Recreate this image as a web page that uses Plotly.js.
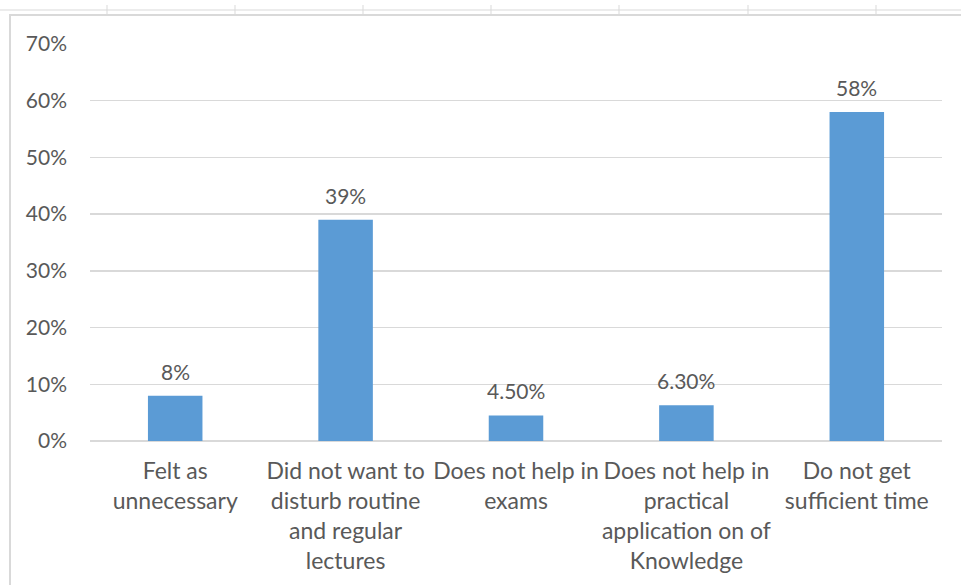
<!DOCTYPE html>
<html>
<head>
<meta charset="utf-8">
<script src="https://cdn.plot.ly/plotly-3.0.1.min.js"></script>
<style>html,body{margin:0;padding:0;background:#fff;}#chart{width:961px;height:585px;}</style>
</head>
<body>
<div id="chart"></div>
<script>
var categories = [
  "Felt as<br>unnecessary",
  "Did not want to<br>disturb routine<br>and regular<br>lectures",
  "Does not help in<br>exams",
  "Does not help in<br>practical<br>application on of<br>Knowledge",
  "Do not get<br>sufficient time"
];
var values = [0.08, 0.39, 0.045, 0.063, 0.58];
var valueLabels = ["8%", "39%", "4.50%", "6.30%", "58%"];
var yTickVals = [0, 0.1, 0.2, 0.3, 0.4, 0.5, 0.6, 0.7];
var yTickText = ["0%", "10%", "20%", "30%", "40%", "50%", "60%", "70%"];

var fontFam = "Lato, Open Sans, sans-serif";
var txtColor = "#595959";

var trace = {
  type: "bar",
  x: categories,
  y: values,
  marker: {color: "#5b9bd5", line: {width: 0}},
  hoverinfo: "none"
};

var annotations = categories.map(function (c, i) {
  return {
    x: c, y: values[i], xref: "x", yref: "y",
    text: valueLabels[i], showarrow: false,
    yanchor: "bottom", yshift: 10,
    font: {family: fontFam, size: 21, color: txtColor}
  };
});

// decorative frame (table border remnants at top and left)
var shapes = [];
var px = function (x) { return (x - 90) / 852; };
var py = function (y) { return (441 - y) / 397; };
shapes.push({type: "line", xref: "paper", yref: "paper", x0: px(0), x1: px(961), y0: py(10), y1: py(10), line: {color: "#d9d9d9", width: 1}});
shapes.push({type: "line", xref: "paper", yref: "paper", x0: px(9), x1: px(961), y0: py(15), y1: py(15), line: {color: "#d9d9d9", width: 2}});
shapes.push({type: "line", xref: "paper", yref: "paper", x0: px(10), x1: px(10), y0: py(15), y1: py(585), line: {color: "#d9d9d9", width: 2}});
[107, 235, 363, 491, 619, 748, 876].forEach(function (x) {
  shapes.push({type: "line", xref: "paper", yref: "paper", x0: px(x), x1: px(x), y0: py(5), y1: py(15), line: {color: "#d9d9d9", width: 1}});
});

var layout = {
  width: 961, height: 585,
  margin: {l: 90, r: 19, t: 44, b: 144, pad: 0},
  paper_bgcolor: "#ffffff", plot_bgcolor: "#ffffff",
  bargap: 0.68,
  showlegend: false,
  font: {family: fontFam, color: txtColor},
  xaxis: {
    type: "category",
    showgrid: false, zeroline: false, showline: false,
    ticks: "", ticklabelstandoff: 14,
    tickfont: {family: fontFam, size: 23, color: txtColor},
    fixedrange: true
  },
  yaxis: {
    range: [0, 0.7],
    tickvals: yTickVals, ticktext: yTickText,
    showgrid: true, gridcolor: "#d9d9d9", gridwidth: 1.5,
    zeroline: true, zerolinecolor: "#d9d9d9", zerolinewidth: 1.5,
    showline: false, ticks: "",
    ticklabelstandoff: 22,
    tickfont: {family: fontFam, size: 21, color: txtColor},
    fixedrange: true
  },
  annotations: annotations,
  shapes: shapes
};

Plotly.newPlot("chart", [trace], layout, {displayModeBar: false, staticPlot: true});
</script>
</body>
</html>
